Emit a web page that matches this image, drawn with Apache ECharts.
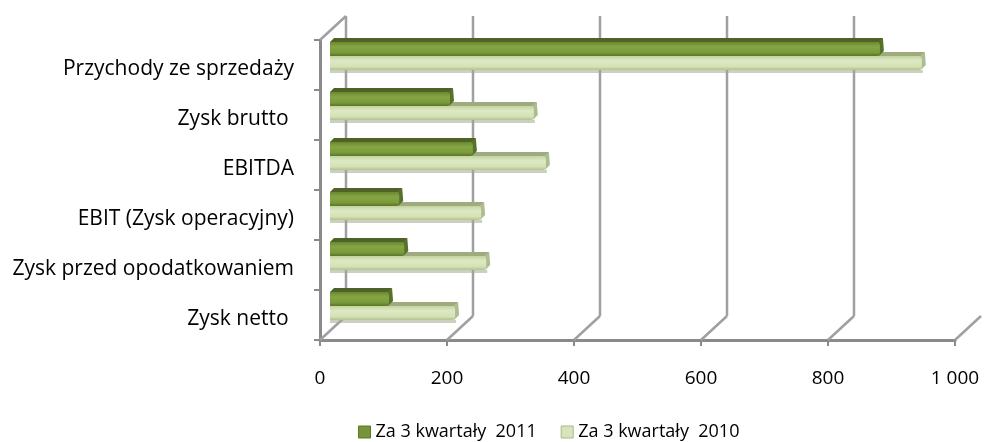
<!DOCTYPE html>
<html>
<head>
<meta charset="utf-8">
<script src="https://cdn.jsdelivr.net/npm/echarts@6/dist/echarts.min.js"></script>
<style>
  html, body { margin: 0; padding: 0; background: #fff; }
  #chart { width: 984px; height: 442px; }
</style>
</head>
<body>
<div id="chart"></div>
<script>
// Wyniki finansowe: porównanie trzech kwartałów 2011 i 2010
const categories = [
  'Przychody ze sprzedaży',
  'Zysk brutto ',
  'EBITDA',
  'EBIT (Zysk operacyjny)',
  'Zysk przed opodatkowaniem',
  'Zysk netto '
];
const values2011 = [866, 189, 225, 109, 117, 93];
const values2010 = [932, 321, 340, 238, 246, 197];
const seriesNames = ['Za 3 kwartały  2011', 'Za 3 kwartały  2010'];
const xTicks = [0, 200, 400, 600, 800, 1000];

const FONT = '"Open Sans", Lato, sans-serif';
const DEPTH_X = 26, DEPTH_Y = -24;   // offset of the back wall
const FACE_H = 14, FACE_D = 4;       // bar face height and bevel depth

const styles = {
  dark: {
    top: '#4f6228',
    end: '#55712a',
    front: ['#6a882f', '#86a645', '#7a9a3b', '#5a7626'],
    legend: '#77933c'
  },
  light: {
    top: '#9dab7f',
    end: '#aebd8f',
    front: ['#c4d4a0', '#dde9c4', '#d4e2b4', '#b3c292'],
    legend: '#d7e4bd'
  }
};

function thousands(v) {
  return String(v).replace(/\B(?=(\d{3})+(?!\d))/g, ' ');
}

function barRenderer(isDark) {
  const s = isDark ? styles.dark : styles.light;
  return function (params, api) {
    const cat = api.value(1);
    const v = api.value(0);
    const p0 = api.coord([0, cat]);
    const p1 = api.coord([v, cat]);
    const x0 = p0[0], xe = p1[0];
    const yT = isDark ? p0[1] - FACE_H : p0[1];
    const yB = yT + FACE_H;
    const d = FACE_D;
    const children = [];
    if (!isDark) {
      children.push({
        type: 'rect',
        shape: { x: x0, y: yB, width: xe - x0 + 1, height: 3 },
        style: { fill: 'rgba(160,170,140,0.55)' }
      });
    }
    children.push({
      type: 'polygon',
      shape: { points: [[x0, yT], [x0 + d, yT - d], [xe + d - 1, yT - d], [xe, yT]] },
      style: { fill: s.top }
    });
    children.push({
      type: 'polygon',
      shape: { points: [[xe - 2, yT], [xe + d - 1, yT - d], [xe + d, yB - d - 1], [xe - 1, yB]] },
      style: { fill: s.end }
    });
    children.push({
      type: 'rect',
      shape: { x: x0, y: yT, width: xe - x0, height: FACE_H, r: [0, 3, 3, 0] },
      style: {
        fill: new echarts.graphic.LinearGradient(0, 0, 0, 1, [
          { offset: 0, color: s.front[0] },
          { offset: 0.35, color: s.front[1] },
          { offset: 0.75, color: s.front[2] },
          { offset: 1, color: s.front[3] }
        ])
      }
    });
    return { type: 'group', children: children };
  };
}

// Back wall gridlines and the depth connectors, placed from the value axis ticks
function frameRenderer(params, api) {
  const cs = params.coordSys;
  const v = api.value(0);
  const x = api.coord([v, 0])[0];
  const top = cs.y, bottom = cs.y + cs.height;
  const lineStyle = { stroke: '#a0a0a0', lineWidth: 2.5 };
  const children = [{
    type: 'line',
    shape: { x1: x, y1: bottom, x2: x + DEPTH_X, y2: bottom + DEPTH_Y },
    style: lineStyle
  }];
  if (v < xTicks[xTicks.length - 1]) {
    children.push({
      type: 'line',
      shape: { x1: x + DEPTH_X, y1: bottom + DEPTH_Y, x2: x + DEPTH_X, y2: top + DEPTH_Y },
      style: lineStyle
    });
  }
  if (v === xTicks[0]) {
    children.push({
      type: 'line',
      shape: { x1: x, y1: top, x2: x + DEPTH_X, y2: top + DEPTH_Y },
      style: lineStyle
    });
  }
  return { type: 'group', children: children };
}

const chart = echarts.init(document.getElementById('chart'), null, { renderer: 'canvas' });

chart.setOption({
  animation: false,
  backgroundColor: '#ffffff',
  textStyle: { fontFamily: FONT },
  legend: {
    left: 353,
    top: 418,
    itemWidth: 12,
    itemHeight: 12,
    itemGap: 24,
    icon: 'rect',
    data: [
      { name: seriesNames[0], itemStyle: { color: styles.dark.legend, borderColor: '#5a7626', borderWidth: 1 } },
      { name: seriesNames[1], itemStyle: { color: styles.light.legend, borderColor: '#a9b98a', borderWidth: 1 } }
    ],
    textStyle: { fontSize: 18, color: '#000', fontFamily: FONT },
    selectedMode: false
  },
  grid: [
    { left: 320, right: 29, top: 40, bottom: 102 },   // front plane with axes
    { left: 330, right: 19, top: 31, bottom: 111 }    // bar plane
  ],
  xAxis: [
    {
      gridIndex: 0,
      type: 'value',
      min: xTicks[0],
      max: xTicks[xTicks.length - 1],
      interval: xTicks[1] - xTicks[0],
      axisLine: { show: true, lineStyle: { color: '#8a8a8a', width: 3 } },
      axisTick: { show: true, length: 6, lineStyle: { color: '#8a8a8a', width: 2 } },
      splitLine: { show: false },
      axisLabel: {
        margin: 29,
        fontSize: 19,
        color: '#000',
        fontFamily: FONT,
        formatter: thousands
      }
    },
    {
      gridIndex: 1,
      type: 'value',
      min: xTicks[0],
      max: xTicks[xTicks.length - 1],
      show: false
    }
  ],
  yAxis: [
    {
      gridIndex: 0,
      type: 'category',
      inverse: true,
      data: categories,
      axisLine: { show: true, lineStyle: { color: '#8a8a8a', width: 3 } },
      axisTick: { show: true, length: 6, lineStyle: { color: '#8a8a8a', width: 2 } },
      axisLabel: {
        margin: 26,
        fontSize: 21,
        color: '#000',
        fontFamily: FONT,
        verticalAlign: 'top',
        lineHeight: 8
      }
    },
    {
      gridIndex: 1,
      type: 'category',
      inverse: true,
      data: categories,
      show: false
    }
  ],
  series: [
    {
      name: 'frame',
      type: 'custom',
      xAxisIndex: 0,
      yAxisIndex: 0,
      z: 1,
      silent: true,
      renderItem: frameRenderer,
      data: xTicks.map(v => [v, 0]),
      encode: { x: 0 }
    },
    {
      name: seriesNames[1],
      type: 'custom',
      xAxisIndex: 1,
      yAxisIndex: 1,
      z: 3,
      itemStyle: { color: styles.light.legend },
      renderItem: barRenderer(false),
      data: values2010.map((v, i) => [v, i]),
      encode: { x: 0, y: 1 }
    },
    {
      name: seriesNames[0],
      type: 'custom',
      xAxisIndex: 1,
      yAxisIndex: 1,
      z: 4,
      itemStyle: { color: styles.dark.legend },
      renderItem: barRenderer(true),
      data: values2011.map((v, i) => [v, i]),
      encode: { x: 0, y: 1 }
    }
  ]
});
</script>
</body>
</html>
